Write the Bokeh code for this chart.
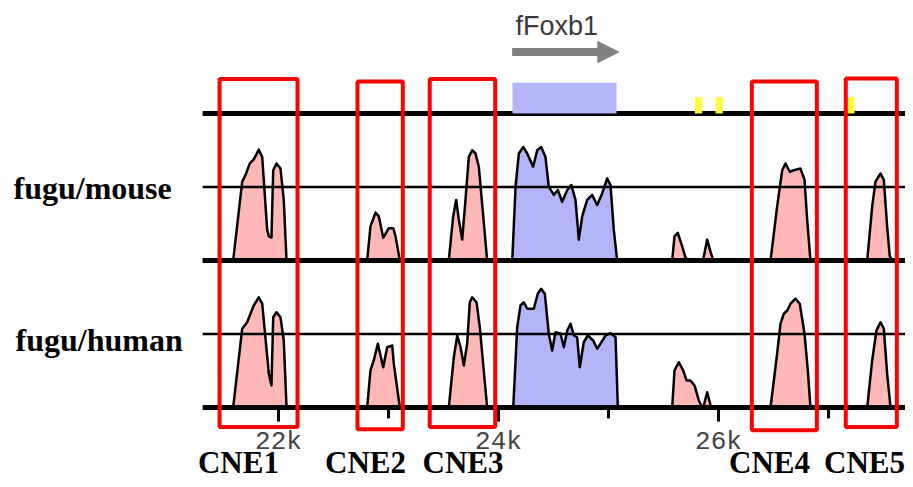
from bokeh.plotting import figure
from bokeh.models import Range1d, Arrow, NormalHead
from bokeh.core.properties import value
from bokeh.embed import file_html
from bokeh.resources import INLINE

# ---------------- data ----------------
track_names = ["fugu/mouse", "fugu/human"]

# conservation profile (position in bp, % identity; 50 = baseline)
mouse_pos = [21588, 21670, 21700, 21739, 21775, 21821, 21852, 21897, 21912, 21936, 21952, 21982, 22018, 22048, 22073,
             22806, 22836, 22882, 22912, 22952, 23003, 23043, 23064, 23103,
             23548, 23588, 23615, 23639, 23670, 23700, 23730, 23761, 23791, 23821, 23897,
             24125, 24155, 24185, 24225, 24261, 24315, 24352, 24388, 24427, 24457, 24503, 24539, 24579, 24625,
             24661, 24700, 24730, 24761, 24806, 24852, 24897, 24943, 24988, 25018, 25048, 25079,
             25579, 25600, 25630, 25670, 25700, 25727,
             25859, 25897, 25927, 25952,
             26473, 26533, 26579, 26609, 26648, 26685, 26745, 26782, 26806, 26836,
             27352, 27397, 27427, 27473, 27503, 27533, 27557, 27579]
mouse_pct = [50, 76.8, 79.1, 83.0, 84.4, 87.7, 85.2, 60.5, 58.2, 57.8, 80.7, 83.0, 81.3, 70.6, 50,
             50, 61.6, 66.3, 65.0, 57.7, 61.0, 61.0, 58.2, 50,
             50, 65.0, 70.6, 63.9, 57.1, 70.6, 85.2, 87.5, 86.4, 81.9, 50,
             50, 75.1, 86.4, 88.6, 86.4, 81.9, 87.5, 88.6, 85.2, 75.1, 72.3, 74.0, 70.0, 74.0,
             75.7, 70.6, 57.1, 65.0, 70.6, 72.3, 68.9, 72.9, 77.9, 75.7, 60.5, 50,
             50, 58.2, 59.4, 54.8, 51.0, 50,
             50, 57.1, 53.0, 50,
             50, 68.3, 80.7, 83.0, 80.2, 80.7, 81.3, 77.4, 63.9, 50,
             50, 68.3, 76.8, 79.6, 77.4, 61.6, 51.5, 50]

human_pos = [21588, 21670, 21715, 21745, 21775, 21821, 21852, 21912, 21936, 21952, 21982, 22018, 22048, 22073,
             22806, 22836, 22866, 22903, 22952, 22988, 23034, 23048, 23103,
             23548, 23594, 23625, 23655, 23685, 23715, 23739, 23761, 23800, 23830, 23897,
             24134, 24170, 24200, 24230, 24261, 24321, 24357, 24388, 24421, 24457, 24488, 24518, 24564, 24594,
             24625, 24655, 24685, 24715, 24739, 24775, 24812, 24861, 24897, 24927, 24973, 25018, 25064, 25085,
             25579, 25600, 25639, 25679, 25709, 25745, 25782, 25821, 25852,
             25862, 25897, 25933,
             26473, 26533, 26564, 26594, 26625, 26655, 26700, 26739, 26782, 26812, 26836,
             27352, 27397, 27436, 27473, 27503, 27533, 27564]
human_pct = [50, 76.8, 79.0, 81.9, 84.7, 87.5, 85.3, 61.5, 57.5, 80.7, 82.4, 80.7, 72.8, 50,
             50, 62.6, 66.0, 71.7, 63.7, 70.5, 71.1, 64.9, 50,
             50, 67.1, 74.5, 70.5, 64.3, 71.7, 85.8, 87.5, 85.8, 77.3, 50,
             50, 77.3, 84.7, 85.8, 83.6, 83.6, 88.7, 90.4, 88.7, 75.1, 69.4, 75.6, 75.1, 70.5,
             76.2, 78.5, 74.5, 73.9, 63.7, 72.2, 74.5, 72.8, 70.0, 71.7, 74.5, 75.3, 73.9, 50,
             50, 62.6, 65.4, 62.6, 59.2, 59.2, 57.5, 52.4, 50,
             50, 55.2, 50,
             50, 68.3, 78.5, 81.9, 83.0, 85.3, 87.0, 85.3, 75.1, 62.6, 50,
             50, 66.0, 76.2, 79.0, 76.8, 61.5, 50]

# annotation
gene_name = "fFoxb1"
gene_start, gene_end = 24124, 25094
exon_start, exon_end = 24127, 25073
utr_starts = [25785, 25973, 27155]
utr_ends = [25852, 26039, 27236]

# conserved non-coding elements
cne_names = ["CNE1", "CNE2", "CNE3", "CNE4", "CNE5"]
cne_starts = [21464, 22718, 23375, 26303, 27157]
cne_ends = [22173, 23130, 23970, 26894, 27621]
cne_label_pos = [21636, 22791, 23677, 26464, 27327]

# axis
region_start, region_end = 21310, 27900
major_ticks = [22000, 24000, 26000]
major_labels = ["22k", "24k", "26k"]
minor_ticks = [23000, 25000, 27000]

assert len(mouse_pos) == len(mouse_pct)
assert len(human_pos) == len(human_pct)

# ---------------- figure ----------------
p = figure(width=905, height=479,
           x_range=Range1d(19472.7, 27700.0), y_range=Range1d(-24.49, 138.44),
           x_axis_type=None, y_axis_type=None,
           toolbar_location=None, output_backend="svg",
           min_border=0, outline_line_color=None)
p.background_fill_color = "white"
p.border_fill_color = "white"

PINK = "#ffb8b8"
BLUE = "#b4b4f9"


def split_peaks(pos, pct):
    peaks, cur_x, cur_y = [], [], []
    for x, v in zip(pos, pct):
        cur_x.append(x)
        cur_y.append(v)
        if v == 50 and len(cur_x) > 1:
            peaks.append((cur_x, cur_y))
            cur_x, cur_y = [], []
    return peaks


track_base = [50, 0]  # track plotting offsets (each track spans 50 units)
for (pos, pct), base in zip([(mouse_pos, mouse_pct), (human_pos, human_pct)], track_base):
    for xs, vs in split_peaks(pos, pct):
        mid = 0.5 * (xs[0] + xs[-1])
        color = BLUE if exon_start <= mid <= exon_end else PINK
        ys = [base + (v - 50) for v in vs]
        p.patch(xs, ys, fill_color=color, line_color="black", line_width=2.5, line_join="round")

# track lines
thin_levels = [75, 25]
thick_levels = [100, 50, 0]
p.segment(x0=[region_start] * 2, x1=[region_end] * 2, y0=thin_levels, y1=thin_levels,
          line_color="black", line_width=2.5)
p.segment(x0=[region_start] * 3, x1=[region_end] * 3, y0=thick_levels, y1=thick_levels,
          line_color="black", line_width=5)

# ticks
p.segment(x0=major_ticks, x1=major_ticks, y0=[0] * 3, y1=[-4.8] * 3, line_color="black", line_width=3)
p.segment(x0=minor_ticks, x1=minor_ticks, y0=[0] * 3, y1=[-3.7] * 3, line_color="black", line_width=3)
p.text(x=major_ticks, y=[-11.6] * 3, text=major_labels, text_font=value("Liberation Mono"),
       text_font_size="26px", text_color="#444444", text_align="center", text_baseline="middle")

# gene annotation
p.quad(left=[exon_start], right=[exon_end], bottom=[100], top=[110.5],
       fill_color=BLUE, line_color=None)
p.quad(left=utr_starts, right=utr_ends, bottom=[100] * 3, top=[105.5] * 3,
       fill_color="#ffff40", line_color=None)
p.add_layout(Arrow(end=NormalHead(size=21, fill_color="#808080", line_color="#808080", line_width=1),
                   x_start=gene_start, y_start=120.9, x_end=gene_end, y_end=120.9,
                   line_color="#808080", line_width=8))
p.text(x=[24155], y=[129.7], text=[gene_name], text_font=value("Liberation Sans"),
       text_font_size="27px", text_color="#3a3a3a", text_align="left", text_baseline="middle")

# CNE boxes
p.quad(left=cne_starts, right=cne_ends,
       top=[111.7, 110.9, 111.7, 110.9, 111.9], bottom=[-6.6, -7.4, -6.6, -7.7, -6.6],
       fill_color=None, line_color="#ff0000", line_width=4)
p.text(x=cne_label_pos, y=[-18.6] * 5, text=cne_names, text_font=value("Liberation Serif"),
       text_font_style="bold", text_font_size="31px", text_color="black",
       text_align="center", text_baseline="middle")

# track labels
p.text(x=[19591, 19609], y=[74.8, 23.1], text=track_names, text_font=value("Liberation Serif"),
       text_font_style="bold", text_font_size="32px", text_color="black",
       text_align="left", text_baseline="middle")

open("out.html", "w").write(file_html(p, INLINE))
